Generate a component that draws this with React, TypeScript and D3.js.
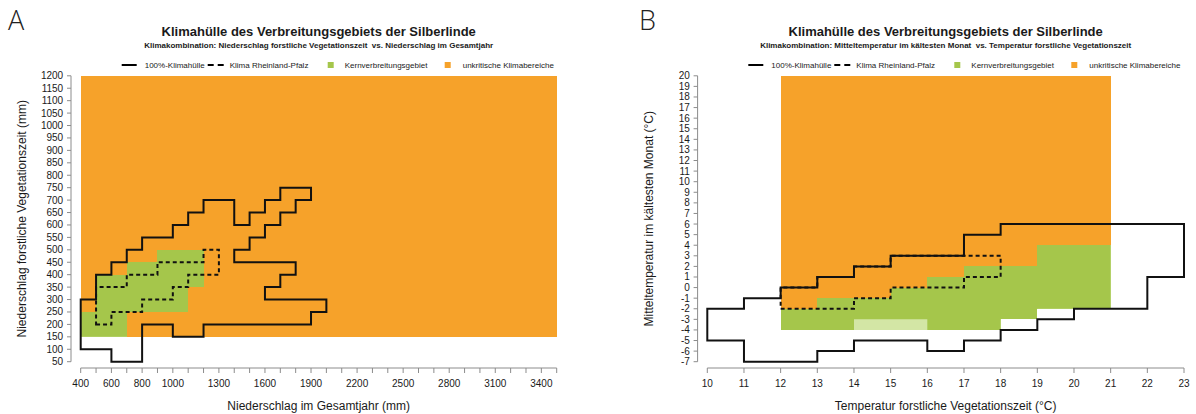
import React from 'react';
import * as d3 from 'd3';

// ---------- shared text ----------
const figTitle = 'Klimahülle des Verbreitungsgebiets der Silberlinde';
const legendLabels = ['100%-Klimahülle', 'Klima Rheinland-Pfalz', 'Kernverbreitungsgebiet', 'unkritische Klimabereiche'];

// ---------- Panel A ----------
const letterA = 'A';
const subtitleA = 'Klimakombination: Niederschlag forstliche Vegetationszeit  vs. Niederschlag im Gesamtjahr';
const xTitleA = 'Niederschlag im Gesamtjahr (mm)';
const yTitleA = 'Niederschlag forstliche Vegetationszeit (mm)';
const xDomainA: [number, number] = [400, 3500];
const yDomainA: [number, number] = [50, 1200];
const xTicksA = [400, 500, 600, 700, 800, 900, 1000, 1100, 1200, 1300, 1400, 1500, 1600, 1700, 1800, 1900, 2000, 2100, 2200, 2300, 2400, 2500, 2600, 2700, 2800, 2900, 3000, 3100, 3200, 3300, 3400, 3500];
const xTickLabelsA = [400, 600, 800, 1000, 1300, 1600, 1900, 2200, 2500, 2800, 3100, 3400];
const yTickLabelsA = [50, 100, 150, 200, 250, 300, 350, 400, 450, 500, 550, 600, 650, 700, 750, 800, 850, 900, 950, 1000, 1050, 1100, 1150, 1200];
// cells: [x0, x1, y0, y1]
const orangeA = [[400, 3500, 150, 1200]];
const greenA = [
  [400, 500, 150, 250],
  [500, 700, 150, 400],
  [700, 900, 250, 450],
  [900, 1100, 250, 500],
  [1100, 1200, 350, 500],
];
const envelopeA = [
  [400, 300], [500, 300], [500, 400], [600, 400], [600, 450], [700, 450], [700, 500], [800, 500], [800, 550],
  [1000, 550], [1000, 600], [1100, 600], [1100, 650], [1200, 650], [1200, 700], [1400, 700], [1400, 600],
  [1500, 600], [1500, 650], [1600, 650], [1600, 700], [1700, 700], [1700, 750], [1900, 750], [1900, 700],
  [1800, 700], [1800, 650], [1700, 650], [1700, 600], [1600, 600], [1600, 550], [1500, 550], [1500, 500],
  [1400, 500], [1400, 450], [1800, 450], [1800, 400], [1700, 400], [1700, 350], [1600, 350], [1600, 300],
  [2000, 300], [2000, 250], [1900, 250], [1900, 200], [1200, 200], [1200, 150], [1000, 150], [1000, 200],
  [800, 200], [800, 50], [600, 50], [600, 100], [400, 100],
];
const rlpA = [
  [500, 200], [600, 200], [600, 250], [800, 250], [800, 300], [1000, 300], [1000, 350], [1100, 350],
  [1100, 400], [1300, 400], [1300, 500], [1200, 500], [1200, 450], [900, 450], [900, 400], [700, 400],
  [700, 350], [500, 350],
];

// ---------- Panel B ----------
const letterB = 'B';
const subtitleB = 'Klimakombination: Mitteltemperatur im kältesten Monat  vs. Temperatur forstliche Vegetationszeit';
const xTitleB = 'Temperatur forstliche Vegetationszeit (°C)';
const yTitleB = 'Mitteltemperatur im kältesten Monat (°C)';
const xDomainB: [number, number] = [10, 23];
const yDomainB: [number, number] = [-7, 20];
const xTicksB = [10, 11, 12, 13, 14, 15, 16, 17, 18, 19, 20, 21, 22, 23];
const xTickLabelsB = [10, 11, 12, 13, 14, 15, 16, 17, 18, 19, 20, 21, 22, 23];
const yTickLabelsB = [-7, -6, -5, -4, -3, -2, -1, 0, 1, 2, 3, 4, 5, 6, 7, 8, 9, 10, 11, 12, 13, 14, 15, 16, 17, 18, 19, 20];
const orangeB = [
  [12, 14, -4, 20],
  [14, 16, -3, 20],
  [16, 18, -4, 20],
  [18, 19, -3, 20],
  [19, 21, -2, 20],
];
const greenB = [
  [12, 13, -4, -2],
  [13, 15, -4, -1],
  [15, 16, -4, 0],
  [16, 17, -4, 1],
  [17, 18, -4, 2],
  [18, 19, -3, 2],
  [19, 21, -2, 4],
];
const envelopeB = [
  [10, -2], [11, -2], [11, -1], [12, -1], [12, 0], [13, 0], [13, 1], [14, 1], [14, 2], [15, 2], [15, 3],
  [17, 3], [17, 5], [18, 5], [18, 6], [23, 6], [23, 1], [22, 1], [22, -2], [20, -2], [20, -3], [19, -3],
  [19, -4], [18, -4], [18, -5], [17, -5], [17, -6], [16, -6], [16, -5], [14, -5], [14, -6], [13, -6],
  [13, -7], [11, -7], [11, -5], [10, -5],
];
const rlpB = [
  [12, -2], [14, -2], [14, -1], [15, -1], [15, 0], [17, 0], [17, 1], [18, 1], [18, 3], [15, 3], [15, 2],
  [14, 2], [14, 1], [13, 1], [13, 0], [12, 0],
];

// ---------- styling ----------
const ORANGE = '#F6A22A';
const GREEN = '#A5C64B';
const PALE_GREEN = '#D3E6A5';
const AXIS = '#8c8c8c';
const TEXT = '#1a1a1a';
const FONT = '"Liberation Sans", Arial, sans-serif';

const TOP = 75.8;
const BOTTOM = 361.7;

type PanelProps = {
  id: string;
  letter: string;
  letterX: number;
  subtitle: string;
  xTitle: string;
  yTitle: string;
  xDomain: [number, number];
  yDomain: [number, number];
  xTicks: number[];
  xTickLabels: number[];
  yTickLabels: number[];
  orange: number[][];
  green: number[][];
  envelope: number[][];
  rlp: number[][];
  left: number;
  right: number;
};

function Panel(p: PanelProps) {
  const x = d3.scaleLinear().domain(p.xDomain).range([p.left, p.right]);
  const y = d3.scaleLinear().domain(p.yDomain).range([BOTTOM, TOP]);
  const line = d3.line<number[]>().x((d) => x(d[0])).y((d) => y(d[1])).curve(d3.curveLinearClosed);
  const cx = (p.left + p.right) / 2;
  const yAxisX = p.left - 9.7;
  const xAxisY = 368;
  const clipId = `orange-clip-${p.id}`;
  const lg = p.left; // legend anchor
  const legY = 65;
  const cellRect = (c: number[], i: number, fill: string) => (
    <rect key={i} x={x(c[0])} y={y(c[3])} width={x(c[1]) - x(c[0])} height={y(c[2]) - y(c[3])} fill={fill} shapeRendering="crispEdges" />
  );
  return (
    <g fontFamily={FONT} fill={TEXT}>
      <text x={p.letterX} y={30} fontSize={27} fontFamily='"Open Sans", "DejaVu Sans", sans-serif' fontWeight={300} fill="#222">{p.letter}</text>
      <text x={cx} y={36} fontSize={13} fontWeight="bold" textAnchor="middle">{figTitle}</text>
      <text x={cx} y={47.5} fontSize={8} fontWeight="bold" textAnchor="middle" style={{ whiteSpace: 'pre' }}>{p.subtitle}</text>

      {/* legend */}
      <g fontSize={8}>
        <line x1={lg + 41} x2={lg + 56} y1={legY} y2={legY} stroke="#000" strokeWidth={2} />
        <text x={lg + 64} y={legY} dy="0.35em">{legendLabels[0]}</text>
        <line x1={lg + 127} x2={lg + 143} y1={legY} y2={legY} stroke="#000" strokeWidth={2} strokeDasharray="6,4" />
        <text x={lg + 149} y={legY} dy="0.35em">{legendLabels[1]}</text>
        <rect x={lg + 247} y={legY - 3} width={6} height={6} fill={GREEN} />
        <text x={lg + 264} y={legY} dy="0.35em">{legendLabels[2]}</text>
        <rect x={lg + 364} y={legY - 3} width={6} height={6} fill={ORANGE} />
        <text x={lg + 382} y={legY} dy="0.35em">{legendLabels[3]}</text>
      </g>

      {/* fields */}
      <defs>
        <clipPath id={clipId}>
          {p.orange.map((c, i) => (
            <rect key={i} x={x(c[0])} y={y(c[3])} width={x(c[1]) - x(c[0])} height={y(c[2]) - y(c[3])} />
          ))}
        </clipPath>
      </defs>
      {p.orange.map((c, i) => cellRect(c, i, ORANGE))}
      <g>{p.green.map((c, i) => cellRect(c, i, PALE_GREEN))}</g>
      <g clipPath={`url(#${clipId})`}>{p.green.map((c, i) => cellRect(c, i, GREEN))}</g>

      <path d={line(p.rlp) || ''} fill="none" stroke="#111" strokeWidth={2} strokeDasharray="4,3" />
      <path d={line(p.envelope) || ''} fill="none" stroke="#111" strokeWidth={2} />

      {/* y axis */}
      <line x1={yAxisX} x2={yAxisX} y1={y(p.yDomain[0])} y2={y(p.yDomain[1])} stroke={AXIS} strokeWidth={1} />
      {p.yTickLabels.map((v) => (
        <g key={v}>
          <line x1={yAxisX - 4} x2={yAxisX} y1={y(v)} y2={y(v)} stroke={AXIS} strokeWidth={1} />
          <text x={p.left - 17.5} y={y(v)} dy="0.35em" fontSize={10} textAnchor="end">{v}</text>
        </g>
      ))}
      <text transform={`translate(${p.left - 58.7},${(TOP + BOTTOM) / 2}) rotate(-90)`} fontSize={12} textAnchor="middle" dy="0.35em">{p.yTitle}</text>

      {/* x axis */}
      <line x1={x(p.xDomain[0])} x2={x(p.xDomain[1])} y1={xAxisY} y2={xAxisY} stroke={AXIS} strokeWidth={1} />
      {p.xTicks.map((v) => (
        <line key={v} x1={x(v)} x2={x(v)} y1={xAxisY} y2={xAxisY + 5} stroke={AXIS} strokeWidth={1} />
      ))}
      {p.xTickLabels.map((v) => (
        <text key={v} x={x(v)} y={387} fontSize={10} textAnchor="middle">{v}</text>
      ))}
      <text x={cx} y={410} fontSize={12} textAnchor="middle">{p.xTitle}</text>
    </g>
  );
}

export default function App() {
  return (
    <svg width={1196} height={414} style={{ position: 'absolute', left: 0, top: 0, background: '#fff' }}>
      <rect x={0} y={0} width={1196} height={414} fill="#fff" />
      <Panel
        id="a" letter={letterA} letterX={8} subtitle={subtitleA} xTitle={xTitleA} yTitle={yTitleA}
        xDomain={xDomainA} yDomain={yDomainA} xTicks={xTicksA} xTickLabels={xTickLabelsA} yTickLabels={yTickLabelsA}
        orange={orangeA} green={greenA} envelope={envelopeA} rlp={rlpA} left={80.7} right={556.7}
      />
      <Panel
        id="b" letter={letterB} letterX={639} subtitle={subtitleB} xTitle={xTitleB} yTitle={yTitleB}
        xDomain={xDomainB} yDomain={yDomainB} xTicks={xTicksB} xTickLabels={xTickLabelsB} yTickLabels={yTickLabelsB}
        orange={orangeB} green={greenB} envelope={envelopeB} rlp={rlpB} left={707.3} right={1184}
      />
    </svg>
  );
}
